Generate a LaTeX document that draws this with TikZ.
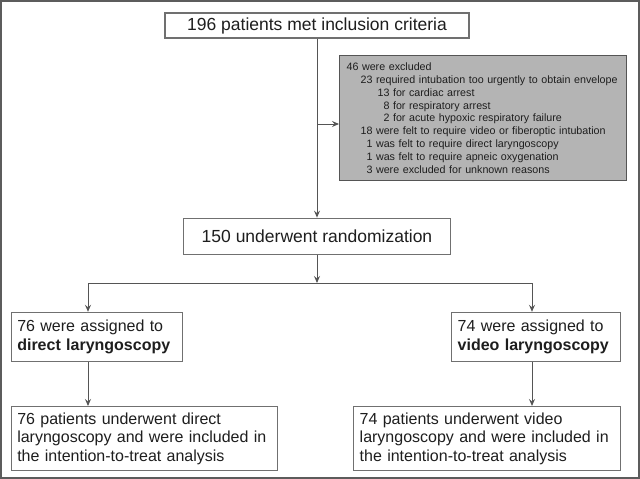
\documentclass[tikz,border=0pt]{standalone}
\usepackage{fontspec}
\setmainfont{Liberation Sans}
\usetikzlibrary{arrows.meta, positioning}
\definecolor{framegray}{HTML}{5C5C5C}
\definecolor{boxgray}{HTML}{707070}
\definecolor{linegray}{HTML}{555555}
\definecolor{exclfill}{HTML}{B4B4B4}
\definecolor{textgray}{HTML}{1E1E1E}
\newcommand*{\titlesize}{\fontsize{17.5}{21}\selectfont}
\newcommand*{\armsize}{\fontsize{16}{18.5}\selectfont}
\newcommand*{\exclsize}{\fontsize{10.7}{12.9}\selectfont}
\tikzstyle{block} = [draw=boxgray, line width=1.2pt, rectangle, inner sep=6pt, fill=white, text=textgray]
\tikzstyle{title} = [block, font=\titlesize, align=center, inner ysep=2pt]
\tikzstyle{arm} = [block, font=\armsize, align=left]
\tikzstyle{excluded} = [draw=linegray, line width=1.2pt, fill=exclfill, text=textgray, font=\exclsize, align=left, inner sep=7pt, text width=273pt, minimum height=125pt]
\tikzstyle{path} = [-{Stealth[length=7pt, width=6pt, inset=2.5pt]}, line width=1pt, draw=linegray]
\tikzstyle{line} = [line width=1pt, draw=linegray]
\begin{document}
\begin{tikzpicture}[x=1pt, y=1pt, node distance=44pt]
    % Frame.
    \useasboundingbox (0,0) rectangle (640,-479);
    \draw [framegray, line width=1.2pt] (1,-1) rectangle (639,-478);

    % Screening.
    \node (met) [title, minimum width=304pt, minimum height=25pt] at (317,-25.5) {196 patients met inclusion criteria};
    \node (rand) [title, minimum width=267pt, minimum height=36pt, below=179pt of met] {150 underwent randomization};
    \node (excl) [excluded, anchor=north west] at (339,-55) {%
        46 were excluded\\
        \hspace*{14pt}23 required intubation too urgently to obtain envelope\\
        \hspace*{31pt}13 for cardiac arrest\\
        \hspace*{31pt}\phantom{1}8 for respiratory arrest\\
        \hspace*{31pt}\phantom{1}2 for acute hypoxic respiratory failure\\
        \hspace*{14pt}18 were felt to require video or fiberoptic intubation\\
        \hspace*{14pt}\phantom{1}1 was felt to require direct laryngoscopy\\
        \hspace*{14pt}\phantom{1}1 was felt to require apneic oxygenation\\
        \hspace*{14pt}\phantom{1}3 were excluded for unknown reasons};

    % Arms.
    \node (asgL) [arm, text width=159pt, minimum height=49pt, below left=57pt and 0pt of rand.south west] {76 were assigned to\\\textbf{direct laryngoscopy}};
    \node (asgR) [arm, text width=157pt, minimum height=49pt, below right=57pt and 0pt of rand.south east] {74 were assigned to\\\textbf{video laryngoscopy}};
    \node (ittL) [arm, text width=254pt, minimum height=62pt, below right=44pt and 0pt of asgL.south west] {76 patients underwent direct\\laryngoscopy and were included in\\the intention-to-treat analysis};
    \node (ittR) [arm, text width=255pt, minimum height=62pt, below left=44pt and 0pt of asgR.south east] {74 patients underwent video\\laryngoscopy and were included in\\the intention-to-treat analysis};

    % Arrows.
    \coordinate (tap) at (met.south |- 0,-124);
    \coordinate (split) at (rand.south |- 0,-283);
    \coordinate (forkL) at (88,-283);
    \coordinate (forkR) at (532,-283);
    \draw [path] (met) -- (rand);
    \draw [path] (tap) -- (tap -| excl.west);
    \draw [path] (rand) -- (split);
    \draw [line] (forkL) -- (forkR);
    \draw [path] (forkL) -- (forkL |- asgL.north);
    \draw [path] (forkR) -- (forkR |- asgR.north);
    \draw [path] (forkL |- asgL.south) -- (forkL |- ittL.north);
    \draw [path] (forkR |- asgR.south) -- (forkR |- ittR.north);
\end{tikzpicture}
\end{document}
